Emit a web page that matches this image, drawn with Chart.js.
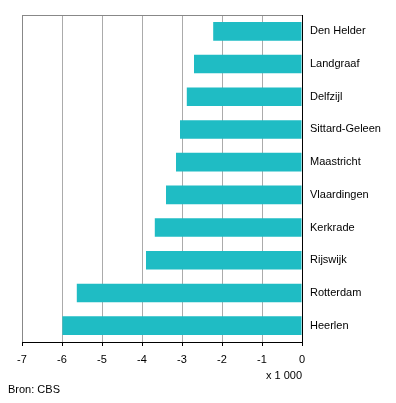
<!DOCTYPE html>
<html>
<head>
<meta charset="utf-8">
<script src="https://cdn.jsdelivr.net/npm/chart.js@4"></script>
<style>
html,body{margin:0;padding:0;background:#fff;}
#wrap{position:relative;width:396px;height:403px;}
#src{position:absolute;left:8px;top:383px;font:11px "Liberation Sans",Arial,sans-serif;color:#000;}
</style>
</head>
<body>
<div id="wrap">
<canvas id="c" width="396" height="403"></canvas>
<div id="src">Bron: CBS</div>
</div>
<script>
const categories = ["Den Helder","Landgraaf","Delfzijl","Sittard-Geleen","Maastricht","Vlaardingen","Kerkrade","Rijswijk","Rotterdam","Heerlen"];
const values = [-2.22,-2.70,-2.88,-3.05,-3.15,-3.40,-3.68,-3.90,-5.63,-5.99];
const xMin = -7, xMax = 0;
const unitLabel = "x 1 000";

const FONT = {family:'"Liberation Sans", Arial, sans-serif', size:11};

new Chart(document.getElementById('c'), {
  type: 'bar',
  data: {
    labels: categories,
    datasets: [{
      data: values,
      backgroundColor: '#1FBCC4',
      borderWidth: 0,
      categoryPercentage: 1,
      barPercentage: 0.57
    }]
  },
  options: {
    indexAxis: 'y',
    responsive: false,
    animation: false,
    layout: {padding: {left: 22, top: 15, right: 0, bottom: 20}},
    plugins: {legend: {display: false}, tooltip: {enabled: false}},
    scales: {
      x: {
        position: 'bottom',
        min: xMin, max: xMax,
        ticks: {stepSize: 1, color: '#000', font: FONT, padding: 7, maxRotation: 0},
        grid: {
          color: ctx => ctx.tick && ctx.tick.value === xMin ? '#888888' : (ctx.tick && ctx.tick.value === xMax ? '#000' : '#ababab'),
          tickColor: '#000',
          tickLength: 4,
          lineWidth: 1
        },
        border: {color: '#000', width: 1},
        title: {display: true, text: unitLabel, align: 'end', color: '#000', font: FONT, padding: {top: 2, bottom: 0}},
        afterFit: s => { s.height = 41; }
      },
      x2: {
        position: 'top',
        min: xMin, max: xMax,
        ticks: {display: false},
        grid: {display: false, drawTicks: false},
        border: {display: true, color: '#888888', width: 1},
        afterFit: s => { s.height = 0; }
      },
      y: {
        position: 'right',
        ticks: {color: '#000', font: FONT, padding: 8},
        grid: {display: false, drawTicks: false},
        border: {display: true, color: '#000', width: 1, z: 1},
        afterFit: s => { s.width = 94; }
      }
    }
  }
});
</script>
</body>
</html>
